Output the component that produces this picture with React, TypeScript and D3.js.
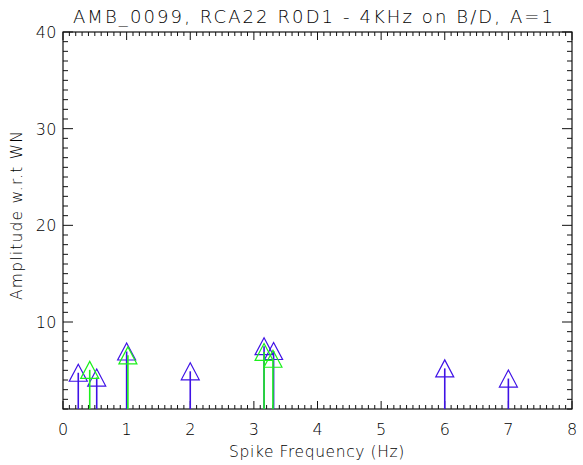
import React from "react";
import * as d3 from "d3";

const titleText = "AMB_0099, RCA22 R0D1 - 4KHz on B/D, A=1";
const xTitle = "Spike Frequency (Hz)";
const yTitle = "Amplitude w.r.t WN";

const xTicks = [0, 1, 2, 3, 4, 5, 6, 7, 8];
const yTicks = [10, 20, 30, 40];

const blueFreq = [0.24, 0.53, 1.0, 2.0, 3.16, 3.31, 6.0, 7.0];
const blueAmp = [4.75, 4.25, 6.95, 4.9, 7.5, 7.0, 5.2, 4.15];

const greenFreq = [0.42, 1.02, 3.16, 3.3];
const greenAmp = [5.05, 6.55, 6.9, 6.2];

const BLUE = "#3f12e6";
const GREEN = "#1cf01c";

const W = 583;
const H = 465;
const L = 63, R = 572, T = 32, B = 409;
const FONT = "'DejaVu Sans', Verdana, sans-serif";

export default function App() {
  const x = d3.scaleLinear().domain([0, 8]).range([L, R]);
  const y = d3.scaleLinear().domain([1, 40]).range([B, T]);

  const xMinor = d3.range(0, 80 + 1).map((i) => i / 10);
  const yMinor = d3.range(1, 41);

  const tri = (cx: number, cy: number) => {
    const hw = 9, hh = 8.5;
    return `M${cx},${cy - hh}L${cx + hw},${cy + hh}L${cx - hw},${cy + hh}Z`;
  };

  const series = [
    { f: blueFreq, a: blueAmp, c: BLUE },
    { f: greenFreq, a: greenAmp, c: GREEN },
  ];

  return (
    <svg width={W} height={H} style={{ position: "absolute", left: 0, top: 0, background: "#fff" }} fontFamily={FONT} fontWeight={300}>
      <rect x={0} y={0} width={W} height={H} fill="#fff" />
      <text x={314} y={23} textAnchor="middle" fontSize={18} letterSpacing={2.1} fill="#000">{titleText}</text>

      {/* frame */}
      <rect x={L} y={T} width={R - L} height={B - T} fill="none" stroke="#111" strokeWidth={1.2} />

      {/* x ticks */}
      {xMinor.map((v, i) => {
        const major = i % 10 === 0;
        const len = major ? 8 : 4;
        return (
          <g key={"xt" + i} stroke="#111" strokeWidth={1}>
            <line x1={x(v)} x2={x(v)} y1={B} y2={B - len} />
            <line x1={x(v)} x2={x(v)} y1={T} y2={T + len} />
          </g>
        );
      })}
      {/* y ticks */}
      {yMinor.map((v) => {
        const major = v % 10 === 0;
        const len = major ? 10 : 5;
        return (
          <g key={"yt" + v} stroke="#111" strokeWidth={1}>
            <line x1={L} x2={L + len} y1={y(v)} y2={y(v)} />
            <line x1={R} x2={R - len} y1={y(v)} y2={y(v)} />
          </g>
        );
      })}

      {xTicks.map((v) => (
        <text key={"xl" + v} x={x(v)} y={435} textAnchor="middle" fontSize={16} fill="#000">{v}</text>
      ))}
      {yTicks.map((v) => (
        <text key={"yl" + v} x={L - 6} y={y(v) + 6} textAnchor="end" fontSize={16} letterSpacing={0.5} fill="#000">{v}</text>
      ))}

      <text x={317} y={457} textAnchor="middle" fontSize={15.5} letterSpacing={0.6} fill="#000">{xTitle}</text>
      <text transform={`translate(22,${215}) rotate(-90)`} textAnchor="middle" fontSize={15.5} letterSpacing={1.2} fill="#000">{yTitle}</text>

      {series.map((s, si) => (
        <g key={"s" + si}>
          {s.f.map((f, i) => (
            <line key={"st" + i} x1={x(f)} x2={x(f)} y1={B} y2={y(s.a[i])} stroke={s.c} strokeWidth={1.6} />
          ))}
          {s.f.map((f, i) => (
            <path key={"tr" + i} d={tri(x(f), y(s.a[i]))} fill="none" stroke={s.c} strokeWidth={1.2} />
          ))}
        </g>
      ))}
    </svg>
  );
}
